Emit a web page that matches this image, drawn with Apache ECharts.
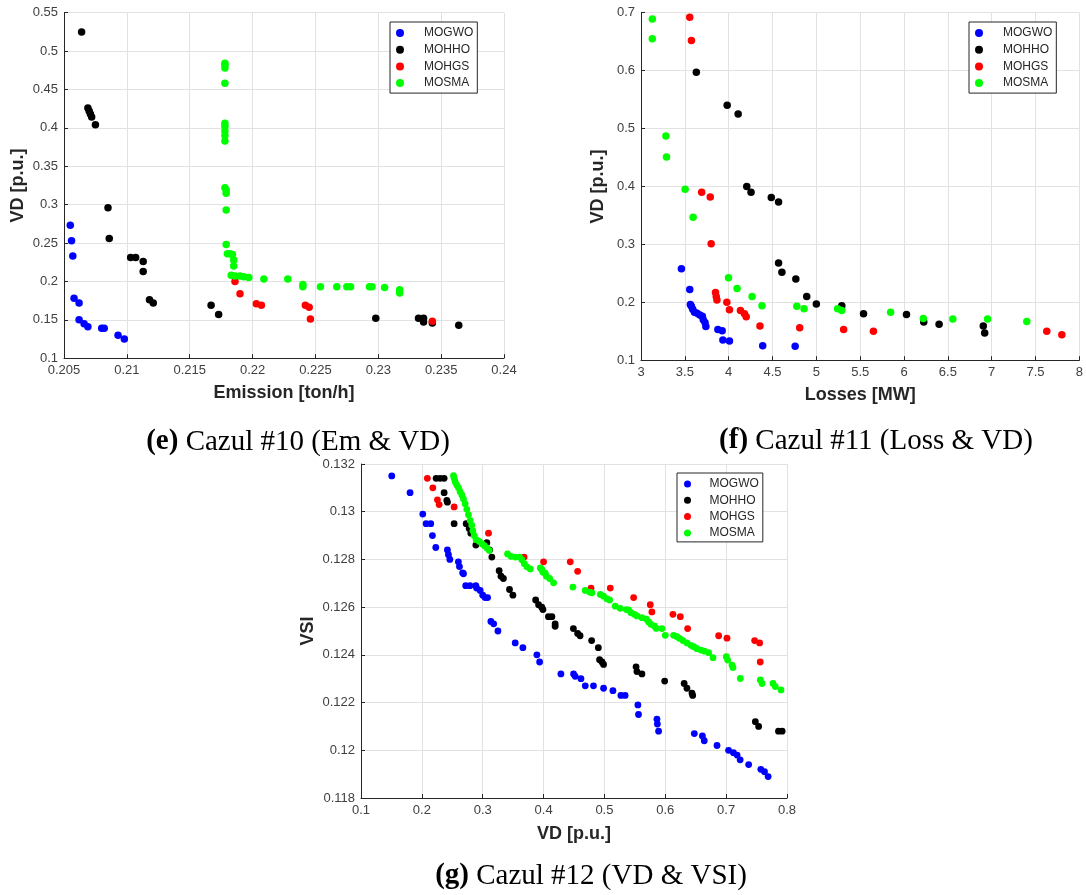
<!DOCTYPE html>
<html>
<head>
<meta charset="utf-8">
<script src="https://cdn.jsdelivr.net/npm/echarts@6/dist/echarts.min.js"></script>
<style>
html,body{margin:0;padding:0;background:#fff;}
#chart{width:1086px;height:895px;}
</style>
</head>
<body>
<div id="chart"></div>
<script>
// ---------- Data ----------
const seriesNames = ['MOGWO', 'MOHHO', 'MOHGS', 'MOSMA'];
const seriesColors = ['#0000ff', '#000000', '#ff0000', '#00ff00'];

// Axis ranges: [min, max, step]
const eXRange = [0.205, 0.24, 0.005];
const eYRange = [0.1, 0.55, 0.05];
const fXRange = [3, 8, 0.5];
const fYRange = [0.1, 0.7, 0.1];
const gXRange = [0.1, 0.8, 0.1];
const gYRange = [0.118, 0.132, 0.002];

const axisNames = ['Emission [ton/h]', 'VD [p.u.]', 'Losses [MW]', 'VD [p.u.]', 'VD [p.u.]', 'VSI'];
const captions = ['Cazul #10 (Em & VD)', 'Cazul #11 (Loss & VD)', 'Cazul #12 (VD & VSI)'];
const captionTags = ['(e)', '(f)', '(g)'];

// (e) Emission vs VD
const e_MOGWO = [[0.2055,0.273],[0.2056,0.253],[0.2057,0.233],[0.2058,0.178],[0.2062,0.172],[0.2062,0.150],[0.2066,0.145],[0.2069,0.141],[0.2080,0.139],[0.2082,0.139],[0.2093,0.130],[0.2098,0.125]];
const e_MOHHO = [[0.2064,0.525],[0.2069,0.426],[0.2070,0.422],[0.2071,0.418],[0.2072,0.414],[0.2075,0.404],[0.2085,0.296],[0.2086,0.256],[0.2103,0.231],[0.2107,0.231],[0.2113,0.226],[0.2113,0.213],[0.2118,0.176],[0.2121,0.172],[0.2167,0.169],[0.2173,0.157],[0.2298,0.152],[0.2332,0.152],[0.2336,0.152],[0.2336,0.147],[0.2343,0.146],[0.2364,0.143]];
const e_MOHGS = [[0.2186,0.200],[0.2190,0.184],[0.2203,0.171],[0.2207,0.169],[0.2242,0.169],[0.2245,0.1665],[0.2246,0.151],[0.2343,0.148]];
const e_MOSMA = [[0.2178,0.484],[0.2178,0.482],[0.2178,0.478],[0.2178,0.458],[0.2178,0.406],[0.2178,0.402],[0.2178,0.396],[0.2178,0.390],[0.2178,0.383],[0.2178,0.322],[0.2179,0.319],[0.2179,0.315],[0.2179,0.293],[0.2179,0.248],[0.2180,0.236],[0.2182,0.236],[0.2184,0.235],[0.2185,0.228],[0.2185,0.220],[0.2183,0.208],[0.2186,0.207],[0.2190,0.207],[0.2193,0.206],[0.2197,0.205],[0.2209,0.203],[0.2228,0.203],[0.2240,0.196],[0.2240,0.193],[0.2254,0.193],[0.2267,0.193],[0.2275,0.193],[0.2278,0.193],[0.2293,0.193],[0.2295,0.193],[0.2305,0.192],[0.2317,0.189],[0.2317,0.185]];

// (f) Losses vs VD
const f_MOGWO = [[3.461,0.258],[3.556,0.222],[3.563,0.196],[3.575,0.193],[3.59,0.188],[3.61,0.183],[3.64,0.181],[3.67,0.178],[3.70,0.176],[3.71,0.170],[3.73,0.165],[3.74,0.158],[3.877,0.153],[3.926,0.151],[3.934,0.135],[4.009,0.133],[4.388,0.125],[4.758,0.124]];
const f_MOHHO = [[3.631,0.597],[3.983,0.540],[4.108,0.525],[4.206,0.400],[4.255,0.390],[4.486,0.381],[4.569,0.373],[4.569,0.268],[4.607,0.252],[4.766,0.240],[4.89,0.210],[5.0,0.197],[5.29,0.194],[5.538,0.180],[6.028,0.179],[6.225,0.166],[6.40,0.162],[6.904,0.159],[6.92,0.147]];
const f_MOHGS = [[3.556,0.692],[3.575,0.652],[3.692,0.390],[3.79,0.382],[3.80,0.301],[3.85,0.217],[3.858,0.210],[3.866,0.204],[3.979,0.200],[4.009,0.187],[4.134,0.186],[4.18,0.180],[4.2,0.175],[4.357,0.159],[4.81,0.156],[5.311,0.153],[5.651,0.150],[7.628,0.150],[7.80,0.144]];
const f_MOSMA = [[3.129,0.689],[3.129,0.655],[3.284,0.487],[3.291,0.451],[3.503,0.395],[3.594,0.347],[3.998,0.2425],[4.096,0.224],[4.267,0.210],[4.38,0.194],[4.777,0.193],[4.86,0.189],[5.243,0.189],[5.29,0.186],[5.847,0.183],[6.22,0.172],[6.557,0.171],[6.953,0.171],[7.40,0.167]];

// (g) VD vs VSI
const g_MOGWO = [[0.1505,0.1315],[0.1806,0.1308],[0.2015,0.1299],[0.207,0.1295],[0.2146,0.1295],[0.2174,0.1290],[0.2229,0.1285],[0.242,0.1284],[0.2437,0.1282],[0.246,0.1280],[0.260,0.1279],[0.2618,0.1277],[0.267,0.12744],[0.2684,0.1274],[0.272,0.1269],[0.279,0.1269],[0.2887,0.1269],[0.290,0.1268],[0.2958,0.1267],[0.300,0.1265],[0.304,0.1264],[0.308,0.1264],[0.3134,0.1254],[0.318,0.1253],[0.325,0.1250],[0.3534,0.1245],[0.366,0.1243],[0.389,0.1240],[0.3935,0.1237],[0.4285,0.1232],[0.4493,0.1232],[0.452,0.1231],[0.4614,0.1230],[0.4685,0.1227],[0.482,0.1227],[0.4986,0.1226],[0.514,0.1225],[0.527,0.1223],[0.534,0.1223],[0.555,0.1219],[0.556,0.1215],[0.5863,0.1213],[0.587,0.1211],[0.589,0.1208],[0.6477,0.1207],[0.661,0.1206],[0.664,0.1204],[0.685,0.1202],[0.704,0.1200],[0.712,0.1199],[0.718,0.1198],[0.723,0.1196],[0.737,0.1194],[0.757,0.1192],[0.763,0.1191],[0.769,0.1189]];
const g_MOHHO = [[0.2234,0.1314],[0.230,0.1314],[0.2366,0.1314],[0.2366,0.1308],[0.241,0.13047],[0.242,0.1304],[0.253,0.1295],[0.2728,0.1295],[0.2777,0.1293],[0.2805,0.1291],[0.2887,0.1286],[0.3068,0.1287],[0.3112,0.1284],[0.315,0.1281],[0.327,0.12753],[0.330,0.1273],[0.334,0.1272],[0.344,0.12674],[0.3496,0.1265],[0.387,0.1263],[0.3918,0.1261],[0.397,0.1260],[0.399,0.1259],[0.408,0.1256],[0.4137,0.1256],[0.419,0.1253],[0.419,0.1252],[0.449,0.1251],[0.456,0.1249],[0.460,0.1248],[0.479,0.1246],[0.490,0.1243],[0.492,0.1238],[0.496,0.1237],[0.4986,0.1236],[0.552,0.1235],[0.5534,0.1233],[0.5616,0.1232],[0.599,0.1229],[0.631,0.1228],[0.6356,0.1226],[0.6438,0.1224],[0.645,0.1223],[0.748,0.1212],[0.7534,0.1210],[0.786,0.1208],[0.792,0.1208]];
const g_MOHGS = [[0.209,0.1314],[0.218,0.1310],[0.2256,0.1305],[0.2284,0.1303],[0.253,0.1302],[0.3095,0.1291],[0.368,0.1281],[0.400,0.1279],[0.4438,0.1279],[0.456,0.1275],[0.478,0.1268],[0.5096,0.1268],[0.548,0.1264],[0.5753,0.1261],[0.578,0.1258],[0.6126,0.1257],[0.6247,0.1256],[0.6367,0.1251],[0.6877,0.1248],[0.7014,0.1247],[0.7468,0.1246],[0.755,0.1245],[0.756,0.1237]];
const g_MOSMA = [[0.2520,0.13151],[0.2531,0.1314],[0.2547,0.13126],[0.2574,0.13112],[0.2602,0.1310],[0.2629,0.13084],[0.2657,0.1307],[0.2684,0.13053],[0.2711,0.13033],[0.2739,0.1301],[0.2766,0.12987],[0.2794,0.12963],[0.2821,0.12943],[0.2838,0.1292],[0.2860,0.1290],[0.2892,0.12883],[0.2942,0.12876],[0.2986,0.12866],[0.3024,0.12858],[0.3068,0.12848],[0.3106,0.12838],[0.3408,0.12823],[0.3463,0.12813],[0.3534,0.1281],[0.3606,0.1281],[0.3644,0.12799],[0.3683,0.12782],[0.3726,0.12769],[0.3781,0.1276],[0.3946,0.12764],[0.3973,0.12757],[0.399,0.12746],[0.4027,0.12743],[0.4045,0.1273],[0.4099,0.1272],[0.4164,0.12702],[0.4482,0.12684],[0.4685,0.1267],[0.4756,0.12663],[0.4795,0.1266],[0.4932,0.12653],[0.4986,0.12646],[0.504,0.12635],[0.5085,0.1263],[0.5178,0.12604],[0.526,0.12595],[0.536,0.1259],[0.5397,0.12588],[0.5436,0.12577],[0.549,0.1257],[0.5534,0.12563],[0.5616,0.12556],[0.5688,0.1255],[0.5726,0.12538],[0.5764,0.12528],[0.582,0.12521],[0.5852,0.12511],[0.5945,0.1251],[0.600,0.12482],[0.6137,0.12482],[0.6192,0.12476],[0.6236,0.12469],[0.629,0.1246],[0.6356,0.1245],[0.6422,0.1244],[0.6466,0.12434],[0.652,0.12426],[0.6586,0.1242],[0.664,0.12416],[0.6712,0.12409],[0.6784,0.12388],[0.7003,0.12392],[0.7025,0.12378],[0.7096,0.12357],[0.7112,0.12347],[0.7233,0.12301],[0.7562,0.12295],[0.759,0.1228],[0.777,0.1228],[0.7808,0.12267],[0.7901,0.12253]];

const panelData = [
  [e_MOGWO, e_MOHHO, e_MOHGS, e_MOSMA],
  [f_MOGWO, f_MOHHO, f_MOHGS, f_MOSMA],
  [g_MOGWO, g_MOHHO, g_MOHGS, g_MOSMA]
];

// ---------- Styling / layout ----------
const SANS = 'Liberation Sans, Arial, Helvetica, sans-serif';
const SERIF = 'Liberation Serif, Times New Roman, serif';
const AXIS_COLOR = '#262626';
const LABEL_COLOR = '#404040';
const GRID_COLOR = '#e2e2e2';

const grids = [
  {left: 64, top: 12.7, width: 440, height: 345.5},
  {left: 641, top: 12.7, width: 442, height: 347.5},
  {left: 361, top: 464, width: 426, height: 334}
];

function makeAxis(dim, gridIndex, range, name, nameGap) {
  return {
    type: 'value', gridIndex: gridIndex,
    min: range[0], max: range[1], interval: range[2],
    name: name, nameLocation: 'middle', nameGap: nameGap,
    nameTextStyle: {fontFamily: SANS, fontSize: 18, fontWeight: 'bold', color: AXIS_COLOR},
    axisLine: {show: true, onZero: false, lineStyle: {color: AXIS_COLOR, width: 1}},
    axisTick: {show: true, inside: true, length: 4, lineStyle: {color: AXIS_COLOR}},
    axisLabel: {fontFamily: SANS, fontSize: 13, color: LABEL_COLOR, margin: dim === 'x' ? 6 : 6},
    splitLine: {show: true, lineStyle: {color: GRID_COLOR, width: 1}}
  };
}

const xAxes = [
  makeAxis('x', 0, eXRange, axisNames[0], 26),
  makeAxis('x', 1, fXRange, axisNames[2], 26),
  makeAxis('x', 2, gXRange, axisNames[4], 27)
];
const yAxes = [
  makeAxis('y', 0, eYRange, axisNames[1], 37),
  makeAxis('y', 1, fYRange, axisNames[3], 34),
  makeAxis('y', 2, gYRange, axisNames[5], 44)
];

const symbolSizes = [7.5, 7.5, 6.8];
const series = [];
panelData.forEach(function (arr, p) {
  arr.forEach(function (data, i) {
    series.push({
      type: 'scatter', name: seriesNames[i],
      xAxisIndex: p, yAxisIndex: p,
      data: data, symbol: 'circle', symbolSize: symbolSizes[p],
      itemStyle: {color: seriesColors[i], opacity: 1},
      emphasis: {disabled: true},
      z: 2 + i
    });
  });
});

function makeLegend(left, top, itemW, pad, gap, iconSize) {
  return {
    show: true, orient: 'vertical', left: left, top: top,
    data: seriesNames.map(function (n) { return {name: n, icon: 'circle'}; }),
    itemWidth: itemW, itemHeight: iconSize, itemGap: gap,
    padding: pad,
    backgroundColor: '#fff', borderColor: AXIS_COLOR, borderWidth: 1, borderRadius: 0,
    textStyle: {fontFamily: SANS, fontSize: 12, color: AXIS_COLOR, lineHeight: 14},
    selectedMode: false
  };
}

const legends = [
  makeLegend(390, 22, 38, [4, 4, 3, 6], 2.7, 8),
  makeLegend(969, 22, 38, [4, 4, 3, 6], 2.7, 8),
  makeLegend(677, 473, 34, [4, 4, 2, 7], 2.3, 7)
];

const captionPos = [[298, 442], [876, 441], [591, 876]];
const graphics = captions.map(function (c, i) {
  return {
    type: 'text', x: captionPos[i][0], y: captionPos[i][1],
    style: {
      text: '{b|' + captionTags[i] + '} ' + c,
      fontFamily: SERIF, fontSize: 29, fill: '#000',
      align: 'center', verticalAlign: 'middle',
      rich: {b: {fontFamily: SERIF, fontSize: 29, fontWeight: 'bold', fill: '#000'}}
    }
  };
});

const chart = echarts.init(document.getElementById('chart'), null, {renderer: 'canvas', width: 1086, height: 895});
chart.setOption({
  backgroundColor: '#ffffff',
  animation: false,
  grid: grids,
  xAxis: xAxes,
  yAxis: yAxes,
  legend: legends,
  series: series,
  graphic: graphics
});
</script>
</body>
</html>
